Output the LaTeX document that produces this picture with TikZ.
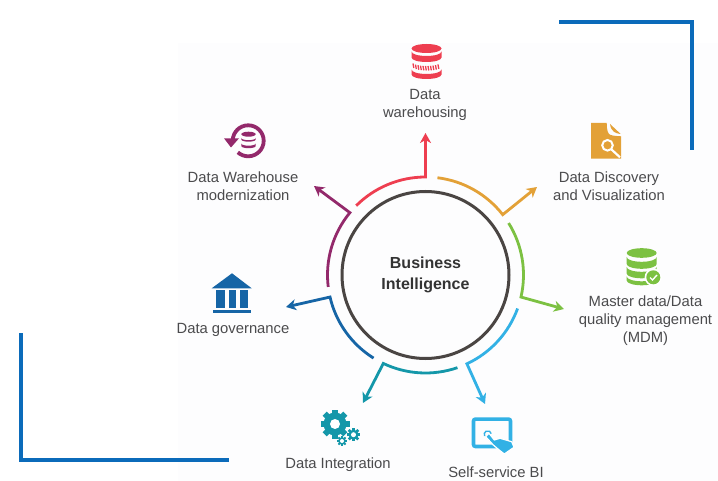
\documentclass[tikz,border=0pt]{standalone}
\usepackage{fontspec}
\setmainfont{Liberation Sans}
\usetikzlibrary{arrows.meta}
\definecolor{frameblue}{HTML}{0B6BBA}
\definecolor{hubgray}{HTML}{4A4543}
\definecolor{labelgray}{HTML}{4B4B4D}
\definecolor{panelwhite}{HTML}{FDFDFE}
\definecolor{dwred}{HTML}{EE3E50}
\definecolor{ddorange}{HTML}{E3A137}
\definecolor{mdmgreen}{HTML}{7CC142}
\definecolor{sscyan}{HTML}{32B1E5}
\definecolor{diteal}{HTML}{1497A9}
\definecolor{dgblue}{HTML}{1665A6}
\definecolor{dmpurple}{HTML}{93296B}
% one band of a database stack
\newcommand{\dbband}[6]{\fill[#1] ({#2-#3},#4) -- ({#2-#3},#5)
  arc[start angle=180, end angle=0, x radius=#3, y radius=#6]
  -- ({#2+#3},#4) arc[start angle=0, end angle=180, x radius=#3, y radius=#6] -- cycle;}
\begin{document}
\begin{tikzpicture}[
    x=1pt, y=-1pt,
    hub/.style={circle, draw=hubgray, line width=3pt, minimum size=167pt, align=center,
                inner sep=0pt, text=black!80, font=\fontsize{16}{21}\selectfont\bfseries},
    lbl/.style={align=center, text=labelgray, inner sep=0pt, font=\fontsize{14.8}{18}\selectfont},
    link/.style={line width=2.8pt, -{Stealth[length=10pt, width=11pt, inset=3pt]}},
    frame/.style={frameblue, line width=4.2pt}
]
\useasboundingbox (0,0) rectangle (718,481);
\fill[panelwhite] (178,43) rectangle (718,481);

% corner frames
\coordinate (tra) at (559,22);
\coordinate (trb) at (692,22);
\coordinate (trc) at (692,150);
\coordinate (bla) at (21,333);
\coordinate (blb) at (21,460);
\coordinate (blc) at (229,460);
\draw[frame] (tra) -- (trb) -- (trc);
\draw[frame] (bla) -- (blb) -- (blc);

\node[hub] (bi) at (425.5,275) {Business\\Intelligence};

% arrow tips
\coordinate (dwtip) at (425.5,133);
\coordinate (ddtip) at (537,187);
\coordinate (mdmtip) at (564,309);
\coordinate (sstip) at (485,404);
\coordinate (ditip) at (363,403);
\coordinate (dgtip) at (286,307);
\coordinate (dmtip) at (314,186);

% ring segments
\draw[link, dwred] ([shift={(225:98)}]bi.center) arc[start angle=225, end angle=270, radius=98] -- (dwtip);
\draw[link, ddorange] ([shift={(277:98)}]bi.center) arc[start angle=277, end angle=322, radius=98] -- (ddtip);
\draw[link, mdmgreen] ([shift={(328:98)}]bi.center) arc[start angle=328, end angle=373, radius=98] -- (mdmtip);
\draw[link, sscyan] ([shift={(20:98)}]bi.center) arc[start angle=20, end angle=65, radius=98] -- (sstip);
\draw[link, diteal] ([shift={(71:98)}]bi.center) arc[start angle=71, end angle=115.5, radius=98] -- (ditip);
\draw[link, dgblue] ([shift={(122:98)}]bi.center) arc[start angle=122, end angle=167, radius=98] -- (dgtip);
\draw[link, dmpurple] ([shift={(173:98)}]bi.center) arc[start angle=173, end angle=219.5, radius=98] -- (dmtip);

% labels
\node[lbl] (dw) at (425,104.5) {Data\\warehousing};
\node[lbl] (dd) at (609,186) {Data Discovery\\and Visualization};
\node[lbl] (mdm) at (645.5,321) {Master data/Data\\quality management\\(MDM)};
\node[lbl] (ss) at (496,472) {Self-service BI};
\node[lbl] (di) at (338,465) {Data Integration};
\node[lbl] (dg) at (233,330) {Data governance};
\node[lbl] (dm) at (243,186) {Data Warehouse\\modernization};

% red database
\fill[dwred] (426.5,48.5) ellipse[x radius=15, y radius=4.5];
\dbband{dwred}{426.5}{15}{51.5}{57.5}{4.5}
\foreach \hx in {413,415.5,...,440}
  \draw[dwred, line width=1.3pt] (\hx,{61.5+4.5*sqrt(1-((\hx-426.5)/15)^2)}) -- ({\hx+0.8},{66+4.5*sqrt(1-((\hx-426.5)/15)^2)});
\dbband{dwred}{426.5}{15}{69.5}{74.5}{4.5}

% document icon
\fill[ddorange] (591,123) -- (606.7,123) .. controls (606.7,130) and (608,134) .. (610,134.7)
  .. controls (613,136) and (617,136) .. (621,136.3)
  -- (621,158.7) -- (591,158.7) -- cycle;
\fill[ddorange] (610,124) -- (620.7,134) .. controls (616,133.5) and (611,132) .. (610,124);
\draw[white, line width=2pt] (607.5,145.3) circle[radius=5.3];
\draw[white, line width=2.2pt] (611.5,149.5) -- (620,157.3);

% green database
\fill[mdmgreen] (641.7,253) ellipse[x radius=15, y radius=4.8];
\dbband{mdmgreen}{641.7}{15}{257}{264}{4.8}
\dbband{mdmgreen}{641.7}{15}{267}{273.5}{4.8}
\dbband{mdmgreen}{641.7}{15}{276.5}{280.5}{4.8}
\fill[white] (653.3,277.3) circle[radius=8.7];
\fill[mdmgreen] (653.3,277.3) circle[radius=7];
\draw[white, line width=1.4pt] (650,277.5) -- (652.5,280) -- (657,275);

% tablet icon
\draw[sscyan, line width=3.6pt, rounded corners=2pt] (473.5,419.1) rectangle (510.5,446.5);
\draw[sscyan, line width=1.4pt] (484.7,436) arc[start angle=150, end angle=350, radius=3.5];
\filldraw[sscyan, draw=white, line width=1.2pt, line join=round] (485.7,436.7) -- (489,433.3) -- (494.3,440)
  -- (500,438.3) -- (511.7,441.7) -- (514,447.3) -- (504.3,454) -- (498.3,449.3) -- (493.3,445) -- cycle;

% teal gears
\fill[diteal] (335,424) circle[radius=11.5];
\foreach \ang in {0,45,...,315}
  \fill[diteal, rotate around={\ang:(335,424)}] (332,409.5) rectangle (338,416);
\fill[white] (335,424) circle[radius=5];
\fill[diteal] (353.5,434.7) circle[radius=5];
\foreach \ang in {0,45,...,315}
  \fill[diteal, rotate around={\ang:(353.5,434.7)}] (352.2,428) rectangle (354.8,431);
\fill[white] (353.5,434.7) circle[radius=2.5];
\fill[diteal] (342,441) circle[radius=3.8];
\foreach \ang in {0,45,...,315}
  \fill[diteal, rotate around={\ang:(342,441)}] (341,436) rectangle (343,438.5);
\fill[white] (342,441) circle[radius=2];

% bank icon
\fill[dgblue] (232,273.3) -- (251.7,288.3) -- (211.7,288.3) -- cycle;
\fill[dgblue] (216,290) rectangle (225,308.3);
\fill[dgblue] (228.5,290) rectangle (235.5,308.3);
\fill[dgblue] (240,290) rectangle (247.7,308.3);
\fill[dgblue] (213.3,310) rectangle (250.7,313.3);

% purple refresh icon
\draw[dmpurple, line width=3.8pt] (232.7,140.8) arc[start angle=180, end angle=492, radius=15.5];
\fill[dmpurple] (224,138.3) -- (239,138.3) -- (231,147.5) -- cycle;
\fill[dmpurple] (248.5,134.2) ellipse[x radius=7.2, y radius=2.5];
\dbband{dmpurple}{248.5}{7.2}{138}{139.5}{2.2}
\dbband{dmpurple}{248.5}{7.2}{143.5}{146}{2.2}
\end{tikzpicture}
\end{document}
